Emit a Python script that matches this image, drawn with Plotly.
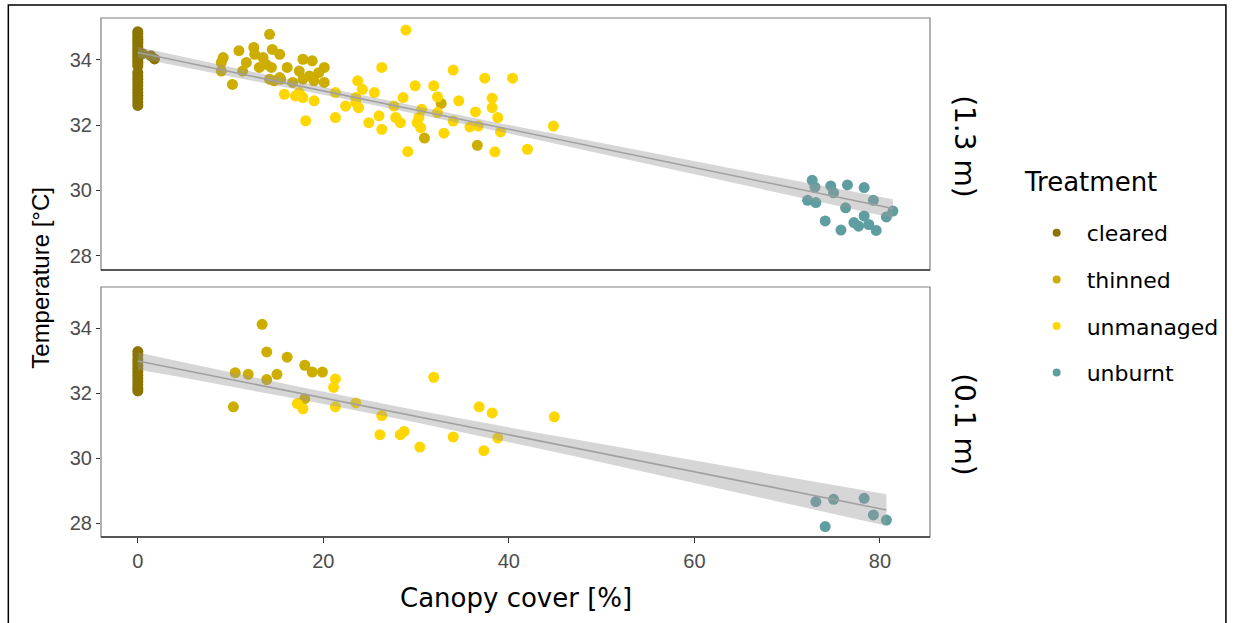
import numpy as np
import plotly.graph_objects as go

# ---------------- data ----------------
treatments = ["cleared", "thinned", "unmanaged", "unburnt"]
treat_colors = ["#8B7500", "#CDAD00", "#FFD700", "#5F9EA0"]
panel_labels = ["(1.3 m)", "(0.1 m)"]
x_ticks = [0, 20, 40, 60, 80]
y_ticks = [28, 30, 32, 34]

# panel 1: 1.3 m
top_cleared_x = [0] * 26 + [0.5, 1.4, 1.8]
top_cleared_y = [34.85, 34.78, 34.70, 34.62, 34.55, 34.48, 34.40, 34.32, 34.25, 34.18,
                 34.10, 34.02, 33.95, 33.88, 33.80, 33.60, 33.50, 33.40, 33.30, 33.20,
                 33.10, 33.00, 32.90, 32.80, 32.70, 32.60, 34.18, 34.12, 34.02]
top_thinned_x = [14.2, 10.9, 12.5, 14.5, 12.6, 9.2, 13.5, 15.3, 9.0, 11.7, 13.8, 17.8, 18.8,
                 9.0, 11.3, 13.1, 14.4, 16.1, 17.4, 20.1, 19.5, 18.5, 17.8, 14.7, 15.3, 10.2,
                 20.1, 19.0, 16.7, 14.2, 15.4, 32.7, 30.9, 36.6]
top_thinned_y = [34.77, 34.27, 34.37, 34.31, 34.16, 34.06, 34.06, 34.16, 33.91, 33.91, 33.86,
                 34.01, 33.96, 33.65, 33.65, 33.76, 33.76, 33.76, 33.65, 33.76, 33.60, 33.50,
                 33.40, 33.35, 33.45, 33.24, 33.30, 33.35, 33.30, 33.40, 33.40, 32.66, 31.60,
                 31.38]
top_unmanaged_x = [15.8, 17.4, 17.8, 19.0, 18.1, 21.3, 21.3, 22.4, 23.7, 23.5, 23.8, 25.5, 26.3,
                   26.0, 24.9, 26.3, 27.6, 27.8, 28.9, 29.9, 31.9, 34.0, 37.4, 40.4, 28.6, 32.3,
                   34.6, 38.2, 38.2, 30.6, 32.3, 36.4, 38.8, 30.3, 28.3, 30.1, 34.0, 36.7, 35.8,
                   44.8, 30.5, 33.0, 39.1, 29.1, 38.5, 42.0, 23.5, 24.2, 17.0]
top_unmanaged_y = [32.94, 32.99, 32.84, 32.74, 32.13, 32.23, 32.99, 32.58, 33.35, 32.84, 32.53,
                   32.99, 33.76, 32.28, 32.07, 31.87, 32.58, 32.23, 34.90, 33.20, 33.20, 33.68,
                   33.43, 33.43, 32.84, 32.86, 32.74, 32.82, 32.53, 32.48, 32.38, 32.40, 32.23,
                   32.23, 32.07, 32.07, 32.12, 31.97, 31.94, 31.97, 31.92, 31.75, 31.79, 31.19,
                   31.18, 31.26, 32.69, 33.09, 32.89]
top_unburnt_x = [72.7, 73.0, 74.7, 76.5, 78.3, 75.0, 72.2, 73.1, 76.3, 79.3, 81.4, 80.7, 74.1,
                 78.3, 77.2, 77.7, 78.8, 79.6, 75.8]
top_unburnt_y = [30.31, 30.10, 30.14, 30.17, 30.09, 29.93, 29.70, 29.63, 29.47, 29.70, 29.37,
                 29.19, 29.07, 29.22, 29.02, 28.91, 28.96, 28.78, 28.79]

# panel 2: 0.1 m
bot_cleared_x = [0] * 13
bot_cleared_y = [33.28, 33.18, 33.05, 32.95, 32.85, 32.75, 32.65, 32.55, 32.45, 32.35, 32.25,
                 32.15, 32.07]
bot_thinned_x = [13.4, 13.9, 16.1, 18.0, 18.8, 19.9, 10.5, 11.9, 15.0, 13.9, 18.0, 10.3]
bot_thinned_y = [34.12, 33.27, 33.11, 32.86, 32.65, 32.65, 32.63, 32.58, 32.58, 32.42, 31.83,
                 31.58]
bot_unmanaged_x = [21.3, 21.1, 17.2, 17.8, 21.3, 23.5, 26.3, 26.1, 28.3, 28.7, 31.9, 30.4, 34.0,
                   36.8, 38.2, 38.8, 37.3, 44.9]
bot_unmanaged_y = [32.44, 32.18, 31.68, 31.52, 31.58, 31.70, 31.31, 30.72, 30.72, 30.82, 32.49,
                   30.34, 30.65, 31.58, 31.39, 30.62, 30.23, 31.27]
bot_unburnt_x = [73.1, 75.0, 78.3, 79.3, 80.7, 74.1]
bot_unburnt_y = [28.66, 28.73, 28.76, 28.25, 28.09, 27.89]

panels = [
    [(top_cleared_x, top_cleared_y), (top_thinned_x, top_thinned_y),
     (top_unmanaged_x, top_unmanaged_y), (top_unburnt_x, top_unburnt_y)],
    [(bot_cleared_x, bot_cleared_y), (bot_thinned_x, bot_thinned_y),
     (bot_unmanaged_x, bot_unmanaged_y), (bot_unburnt_x, bot_unburnt_y)],
]

# ---------------- figure ----------------
W, H = 1236, 623
ML, MR, MT, MB = 101, 303, 18, 86
PW, PH = W - ML - MR, H - MT - MB
SANS = "DejaVu Sans, Verdana, sans-serif"
ARIAL = "Liberation Sans, Arial, sans-serif"


def py(v):  # pixel y -> paper y
    return (H - MB - v) / PH


def px(v):
    return (v - ML) / PW


fig = go.Figure()
axes = [("x", "y"), ("x2", "y2")]
T_CRIT = 1.97

for pi, pdata in enumerate(panels):
    xa, ya = axes[pi]
    for ti, (xs, ys) in enumerate(pdata):
        fig.add_trace(go.Scatter(
            x=xs, y=ys, mode="markers", xaxis=xa, yaxis=ya,
            name=treatments[ti], legendgroup=treatments[ti], showlegend=False,
            marker=dict(color=treat_colors[ti], size=11, line=dict(width=0)),
        ))
    # linear model with 95% confidence band (as geom_smooth(method = "lm"))
    X = np.concatenate([np.asarray(d[0], float) for d in pdata])
    Y = np.concatenate([np.asarray(d[1], float) for d in pdata])
    n = len(X)
    b1, b0 = np.polyfit(X, Y, 1)
    resid = Y - (b0 + b1 * X)
    s = np.sqrt(np.sum(resid ** 2) / (n - 2))
    xm = X.mean()
    sxx = np.sum((X - xm) ** 2)
    xg = np.linspace(X.min(), X.max(), 80)
    yg = b0 + b1 * xg
    se = s * np.sqrt(1.0 / n + (xg - xm) ** 2 / sxx)
    lo, hi = yg - T_CRIT * se, yg + T_CRIT * se
    fig.add_trace(go.Scatter(
        x=np.concatenate([xg, xg[::-1]]), y=np.concatenate([hi, lo[::-1]]),
        xaxis=xa, yaxis=ya, mode="lines", fill="toself",
        fillcolor="rgba(153,153,153,0.4)", line=dict(width=0),
        showlegend=False, hoverinfo="skip"))
    fig.add_trace(go.Scatter(
        x=xg, y=yg, xaxis=xa, yaxis=ya, mode="lines",
        line=dict(color="#A0A0A0", width=1.6), showlegend=False, hoverinfo="skip"))

# legend keys (smaller points, as in the reference legend)
for ti, t in enumerate(treatments):
    fig.add_trace(go.Scatter(
        x=[None], y=[None], mode="markers", name=t, legendgroup=t, showlegend=True,
        marker=dict(color=treat_colors[ti], size=8, line=dict(width=0))))

xr = [-3.97, 85.4]
yr = [27.57, 35.27]
tickfont = dict(family=ARIAL, size=20, color="#4D4D4D")
top_dom = [py(270), 1.0]
bot_dom = [0.0, py(287)]

fig.update_layout(
    width=W, height=H,
    margin=dict(l=ML, r=MR, t=MT, b=MB),
    paper_bgcolor="white", plot_bgcolor="white",
    font=dict(family=SANS, color="black"),
    xaxis=dict(domain=[0, 1], anchor="y", range=xr, showticklabels=False, ticks="",
               showgrid=False, zeroline=False, showline=False),
    xaxis2=dict(domain=[0, 1], anchor="y2", range=xr, tickvals=x_ticks, ticks="outside",
                ticklen=5, tickwidth=1.2, tickcolor="#333333", tickfont=tickfont,
                ticklabelstandoff=1,
                showgrid=False, zeroline=False, showline=False, matches="x"),
    yaxis=dict(domain=top_dom, anchor="x", range=yr, tickvals=y_ticks, ticks="outside",
               ticklen=4, tickwidth=1.2, tickcolor="#333333", tickfont=tickfont,
               showgrid=False, zeroline=False, showline=False),
    yaxis2=dict(domain=bot_dom, anchor="x2", range=yr, tickvals=y_ticks, ticks="outside",
                ticklen=4, tickwidth=1.2, tickcolor="#333333", tickfont=tickfont,
                showgrid=False, zeroline=False, showline=False),
    legend=dict(
        font=dict(family=SANS, size=22, color="black"),
        x=px(1030), y=py(212), xanchor="left", yanchor="top",
        tracegroupgap=15, itemwidth=50, bgcolor="rgba(0,0,0,0)",
    ),
    showlegend=True,
)

shapes = []
for xa, ya in axes:
    shapes.append(dict(type="rect", xref=f"{xa} domain", yref=f"{ya} domain",
                       x0=0, x1=1, y0=0, y1=1, line=dict(color="#7F7F7F", width=1.2),
                       layer="above"))
    shapes.append(dict(type="line", xref=f"{xa} domain", yref=f"{ya} domain",
                       x0=0, x1=1, y0=0, y1=0, line=dict(color="#333333", width=1.6),
                       layer="above"))
# outer frame
shapes.append(dict(type="rect", xref="paper", yref="paper",
                   x0=px(8), x1=px(1230), y0=py(640), y1=py(5),
                   line=dict(color="black", width=1.5)))
fig.update_layout(shapes=shapes)

ann = [
    dict(text="Temperature [°C]", xref="paper", yref="paper", x=px(40), y=py(277.5),
         textangle=-90, showarrow=False, font=dict(family=ARIAL, size=24, color="black"),
         xanchor="center", yanchor="middle"),
    dict(text="Canopy cover [%]", xref="paper", yref="paper", x=0.5, y=py(598),
         showarrow=False, font=dict(family=SANS, size=26, color="black"),
         xanchor="center", yanchor="middle"),
    dict(text="Treatment", xref="paper", yref="paper", x=px(1025), y=py(182),
         showarrow=False, font=dict(family=SANS, size=26, color="black"),
         xanchor="left", yanchor="middle"),
    dict(text=panel_labels[0], xref="paper", yref="paper", x=px(968), y=py(147),
         textangle=90, showarrow=False, font=dict(family=SANS, size=28, color="black"),
         xanchor="center", yanchor="middle"),
    dict(text=panel_labels[1], xref="paper", yref="paper", x=px(968), y=py(425),
         textangle=90, showarrow=False, font=dict(family=SANS, size=28, color="black"),
         xanchor="center", yanchor="middle"),
]
fig.update_layout(annotations=ann)

fig.write_html("out.html")
